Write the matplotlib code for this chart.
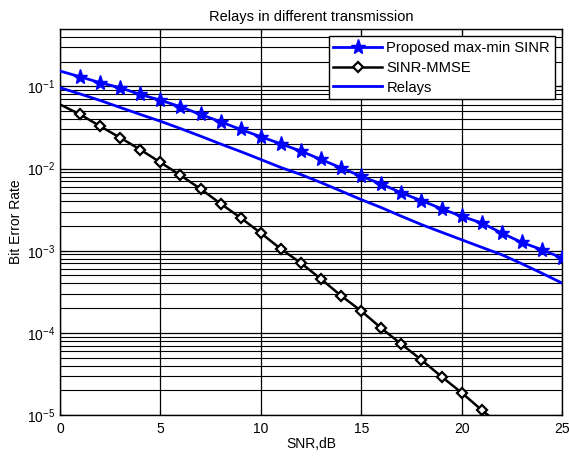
import matplotlib
matplotlib.use("Agg")
import matplotlib.pyplot as plt
import numpy as np
from matplotlib.ticker import LogLocator, FixedLocator

plt.rcParams['font.family'] = ['Liberation Sans', 'DejaVu Sans']
plt.rcParams['mathtext.default'] = 'regular'

snr = list(range(0, 26))
proposed = [0.154, 0.131, 0.111, 0.0964, 0.0798, 0.068, 0.0565, 0.0456, 0.0371, 0.0299,
            0.0244, 0.020, 0.0163, 0.0129, 0.0102, 0.00805, 0.0065, 0.00506, 0.00407,
            0.00325, 0.00262, 0.00218, 0.00164, 0.00126, 0.00103, 0.000815]
relays = [0.0964, 0.0810, 0.0675, 0.0554, 0.0456, 0.0377, 0.0307, 0.0248, 0.0199, 0.0161,
          0.0129, 0.0103, 0.00845, 0.00675, 0.00532, 0.00419, 0.00335, 0.00263, 0.00208,
          0.00168, 0.00136, 0.00110, 0.000894, 0.000694, 0.000532, 0.000404]
snr_mmse = list(range(0, 23))
mmse = [0.0603, 0.0456, 0.0328, 0.0237, 0.0170, 0.0119, 0.00828, 0.00565, 0.00374, 0.00251,
        0.00164, 0.00105, 0.000707, 0.000452, 0.000283, 0.000185, 0.000114, 7.28e-5,
        4.69e-5, 2.93e-5, 1.87e-5, 1.15e-5, 7.3e-6]

fig = plt.figure(figsize=(5.69, 4.59), dpi=100)
ax = fig.add_axes([60/569, 1-415/459, (562-60)/569, (415-29)/459])

blue = '#0000ff'
ax.semilogy(snr, proposed, color=blue, lw=2.0, marker='*', markersize=11,
            markevery=slice(1, None), label='Proposed max-min SINR', zorder=3)
ax.semilogy(snr_mmse, mmse, color='black', lw=1.8, marker='D', markersize=5.5,
            markerfacecolor='white', markeredgewidth=1.6, markeredgecolor='black',
            markevery=slice(1, None), label='SINR-MMSE', zorder=3)
ax.semilogy(snr, relays, color=blue, lw=2.0, label='Relays', zorder=3)

ax.set_xlim(0, 25)
ax.set_ylim(1e-5, 0.5)
ax.xaxis.set_major_locator(FixedLocator([0, 5, 10, 15, 20, 25]))
ax.yaxis.set_major_locator(LogLocator(base=10, numticks=10))
ax.yaxis.set_minor_locator(LogLocator(base=10, subs=np.arange(2, 10), numticks=20))
ax.grid(True, which='major', axis='both', color='black', lw=0.9, zorder=1)
ax.grid(True, which='minor', axis='y', color='black', lw=0.8, zorder=1)
ax.tick_params(which='both', direction='in', labelsize=10, top=True, right=True)
ax.tick_params(which='minor', length=0)
ax.tick_params(axis='x', pad=5)
for s in ax.spines.values():
    s.set_linewidth(1.0)

ax.set_title('Relays in different transmission', fontsize=10.5, pad=6)
ax.set_xlabel('SNR,dB', fontsize=10, labelpad=1)
ax.set_ylabel('Bit Error Rate', fontsize=10, labelpad=3)

leg = ax.legend(loc='upper right', fontsize=10.6, handlelength=3.3, fancybox=False,
                framealpha=1, edgecolor='black', borderpad=0.3, labelspacing=0.4,
                handletextpad=0.3, borderaxespad=0.5)
leg.get_frame().set_linewidth(1.0)
leg.set_zorder(5)

fig.savefig('out.png', dpi=100)
